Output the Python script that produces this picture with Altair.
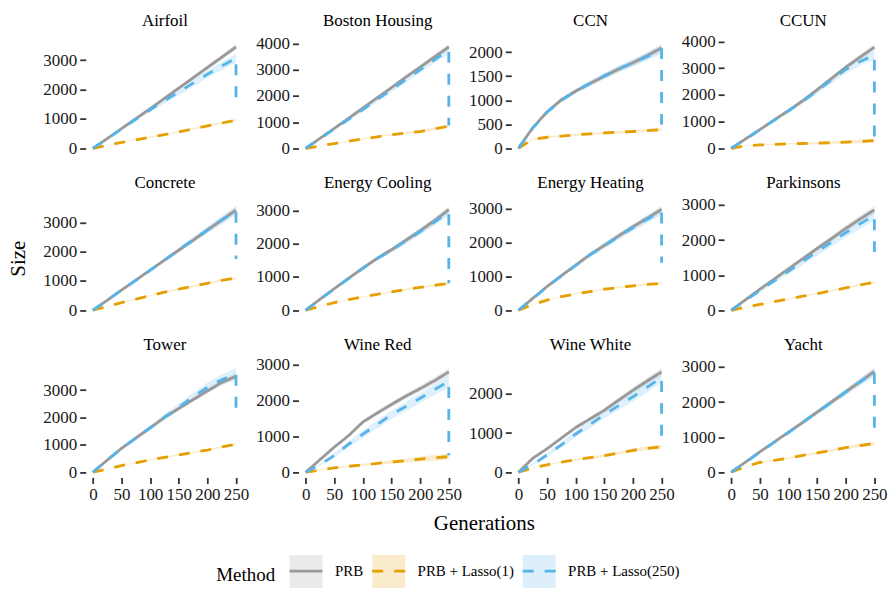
import altair as alt
import pandas as pd

SERIF = "Liberation Serif"

GENS = [0, 25, 50, 75, 100, 125, 150, 175, 200, 225, 250]
X_TICKS = [0, 50, 100, 150, 200, 250]
DATASETS = ["Airfoil", "Boston Housing", "CCN", "CCUN",
            "Concrete", "Energy Cooling", "Energy Heating", "Parkinsons",
            "Tower", "Wine Red", "Wine White", "Yacht"]
METHODS = ["PRB", "PRB + Lasso(1)", "PRB + Lasso(250)"]
LINE_COLORS = ["#999999", "#E69F00", "#56B4E9"]

# mean model size per generation
PRB = {
    "Airfoil":        [0, 330, 670, 1010, 1350, 1700, 2050, 2400, 2750, 3100, 3450],
    "Boston Housing": [0, 380, 760, 1150, 1540, 1930, 2320, 2720, 3100, 3490, 3870],
    "CCN":            [0, 430, 760, 1010, 1190, 1350, 1500, 1650, 1780, 1930, 2090],
    "CCUN":           [0, 350, 700, 1060, 1410, 1780, 2190, 2610, 3030, 3410, 3780],
    "Concrete":       [0, 340, 690, 1030, 1370, 1710, 2050, 2390, 2740, 3080, 3420],
    "Energy Cooling": [0, 330, 650, 960, 1270, 1560, 1820, 2100, 2390, 2690, 3020],
    "Energy Heating": [0, 350, 700, 1020, 1330, 1640, 1910, 2190, 2460, 2710, 2970],
    "Parkinsons":     [0, 300, 600, 890, 1180, 1470, 1760, 2040, 2330, 2600, 2860],
    "Tower":          [0, 440, 870, 1250, 1620, 2000, 2330, 2650, 2970, 3280, 3510],
    "Wine Red":       [0, 350, 700, 1020, 1400, 1650, 1890, 2120, 2330, 2550, 2795],
    "Wine White":     [0, 355, 600, 870, 1140, 1360, 1580, 1840, 2090, 2330, 2560],
    "Yacht":          [0, 290, 580, 860, 1140, 1420, 1710, 2000, 2290, 2580, 2870],
}
LASSO1 = {
    "Airfoil":        [0, 100, 200, 290, 380, 470, 560, 660, 760, 860, 960],
    "Boston Housing": [0, 90, 180, 270, 360, 440, 520, 580, 640, 740, 850],
    "CCN":            [0, 190, 230, 255, 280, 300, 320, 335, 350, 370, 390],
    "CCUN":           [0, 90, 125, 150, 170, 180, 195, 210, 230, 255, 290],
    "Concrete":       [0, 130, 260, 380, 500, 620, 720, 820, 920, 1020, 1100],
    "Energy Cooling": [0, 120, 230, 320, 400, 480, 550, 620, 690, 750, 806],
    "Energy Heating": [0, 170, 300, 400, 480, 550, 620, 670, 720, 760, 796],
    "Parkinsons":     [0, 90, 165, 245, 325, 400, 475, 555, 635, 720, 800],
    "Tower":          [0, 120, 240, 340, 450, 540, 630, 720, 810, 920, 1024],
    "Wine Red":       [0, 60, 120, 165, 205, 245, 285, 325, 365, 400, 435],
    "Wine White":     [0, 110, 190, 260, 320, 370, 420, 490, 560, 610, 650],
    "Yacht":          [0, 160, 280, 340, 400, 480, 550, 620, 700, 760, 820],
}
LASSO250 = {
    "Airfoil":        [0, 320, 660, 990, 1310, 1620, 1920, 2220, 2520, 2800, 3070],
    "Boston Housing": [0, 370, 740, 1110, 1480, 1860, 2240, 2620, 3000, 3380, 3750],
    "CCN":            [0, 420, 750, 1000, 1190, 1350, 1510, 1650, 1780, 1910, 2050],
    "CCUN":           [0, 340, 690, 1050, 1400, 1760, 2150, 2560, 2950, 3250, 3480],
    "Concrete":       [0, 340, 690, 1020, 1360, 1710, 2060, 2400, 2740, 3080, 3400],
    "Energy Cooling": [0, 320, 640, 950, 1260, 1550, 1800, 2080, 2360, 2650, 2940],
    "Energy Heating": [0, 340, 690, 1010, 1320, 1630, 1900, 2170, 2430, 2680, 2910],
    "Parkinsons":     [0, 280, 560, 840, 1110, 1390, 1670, 1940, 2210, 2460, 2700],
    "Tower":          [0, 440, 870, 1250, 1620, 2010, 2380, 2750, 3100, 3380, 3600],
    "Wine Red":       [0, 210, 470, 780, 1060, 1330, 1610, 1830, 2060, 2300, 2530],
    "Wine White":     [0, 200, 440, 700, 975, 1220, 1470, 1700, 1925, 2170, 2420],
    "Yacht":          [0, 280, 570, 850, 1130, 1420, 1710, 1990, 2280, 2570, 2850],
}
# size after the final Lasso(250) simplification at generation 250
LASSO250_FINAL = {
    "Airfoil": 1550, "Boston Housing": 870, "CCN": 400, "CCUN": 270,
    "Concrete": 1750, "Energy Cooling": 810, "Energy Heating": 1400,
    "Parkinsons": 1650, "Tower": 2050, "Wine Red": 470, "Wine White": 700,
    "Yacht": 1000,
}
# half-width of the confidence bands
PRB_HW = {
    "Airfoil":        [0, 15, 25, 35, 45, 55, 60, 70, 80, 90, 100],
    "Boston Housing": [0, 20, 30, 40, 50, 60, 70, 80, 90, 100, 110],
    "CCN":            [0, 20, 30, 40, 40, 50, 50, 60, 60, 70, 80],
    "CCUN":           [0, 30, 40, 50, 60, 70, 80, 90, 100, 110, 120],
    "Concrete":       [0, 20, 30, 40, 50, 60, 70, 80, 90, 100, 110],
    "Energy Cooling": [0, 20, 30, 40, 50, 60, 70, 80, 90, 100, 110],
    "Energy Heating": [0, 20, 30, 40, 50, 60, 70, 75, 80, 90, 100],
    "Parkinsons":     [0, 20, 30, 40, 50, 60, 70, 80, 90, 100, 110],
    "Tower":          [0, 20, 30, 40, 50, 60, 70, 80, 90, 100, 110],
    "Wine Red":       [0, 20, 30, 40, 50, 60, 70, 80, 90, 100, 110],
    "Wine White":     [0, 20, 30, 40, 50, 55, 60, 70, 80, 90, 100],
    "Yacht":          [0, 15, 25, 30, 40, 50, 60, 70, 80, 90, 100],
}
LASSO1_HW = {
    "Airfoil":        [0, 8, 12, 15, 18, 22, 25, 28, 30, 35, 40],
    "Boston Housing": [0, 10, 15, 20, 25, 30, 35, 40, 45, 50, 60],
    "CCN":            [0, 15, 20, 20, 25, 25, 25, 30, 30, 30, 35],
    "CCUN":           [0, 15, 20, 25, 30, 35, 40, 50, 60, 70, 80],
    "Concrete":       [0, 10, 15, 20, 20, 25, 30, 30, 35, 35, 40],
    "Energy Cooling": [0, 10, 12, 15, 18, 20, 22, 25, 28, 30, 32],
    "Energy Heating": [0, 10, 12, 15, 18, 20, 22, 25, 28, 30, 32],
    "Parkinsons":     [0, 8, 10, 12, 15, 18, 20, 22, 25, 28, 30],
    "Tower":          [0, 10, 15, 20, 20, 25, 25, 30, 30, 35, 40],
    "Wine Red":       [0, 15, 20, 25, 30, 40, 50, 60, 70, 80, 90],
    "Wine White":     [0, 10, 15, 20, 25, 30, 35, 40, 45, 50, 55],
    "Yacht":          [0, 10, 15, 20, 25, 30, 35, 40, 45, 50, 55],
}
LASSO250_HW = {
    "Airfoil":        [0, 20, 35, 50, 70, 90, 110, 120, 130, 140, 150],
    "Boston Housing": [0, 30, 50, 60, 80, 90, 100, 110, 120, 130, 150],
    "CCN":            [0, 25, 35, 45, 50, 60, 65, 70, 75, 80, 90],
    "CCUN":           [0, 30, 50, 60, 80, 90, 110, 130, 150, 160, 170],
    "Concrete":       [0, 20, 30, 40, 50, 60, 80, 100, 120, 140, 160],
    "Energy Cooling": [0, 20, 30, 40, 50, 60, 70, 80, 90, 100, 110],
    "Energy Heating": [0, 25, 40, 50, 60, 70, 80, 90, 100, 110, 120],
    "Parkinsons":     [0, 30, 50, 60, 80, 100, 110, 120, 130, 140, 150],
    "Tower":          [0, 30, 50, 70, 90, 110, 130, 150, 170, 190, 210],
    "Wine Red":       [0, 30, 60, 80, 100, 110, 120, 130, 140, 150, 160],
    "Wine White":     [0, 30, 50, 70, 80, 90, 100, 110, 120, 130, 140],
    "Yacht":          [0, 20, 30, 40, 50, 60, 70, 80, 90, 100, 120],
}
Y_TICK_COUNT = {"Wine White": 3}

rows = []
for d in DATASETS:
    for m, means, hws in [(METHODS[0], PRB, PRB_HW),
                          (METHODS[1], LASSO1, LASSO1_HW),
                          (METHODS[2], LASSO250, LASSO250_HW)]:
        for i, g in enumerate(GENS):
            v = means[d][i]
            h = hws[d][i]
            rows.append(dict(dataset=d, Method=m, Band=m, gen=g, size=v,
                             lo=v - h, hi=v + h, idx=i))
    rows.append(dict(dataset=d, Method=METHODS[2], Band=METHODS[2], gen=250,
                     size=LASSO250_FINAL[d], lo=None, hi=None, idx=len(GENS)))
df = pd.DataFrame(rows)

LEG_X = 131
LEG_Y = 516

common_legend = dict(
    orient="none", legendX=LEG_X, legendY=LEG_Y, direction="horizontal",
    title="Method", titleOrient="left", titleAnchor="middle", titleBaseline="top",
    titleFont=SERIF, titleFontSize=19, titleFontWeight="normal", titlePadding=12,
    labelFont=SERIF, labelFontSize=15, labelOffset=11, columnPadding=2,
    symbolSize=1089, symbolStrokeWidth=2.8,
)
fill_legend = alt.Legend(
    titleColor="transparent", labelColor="transparent",
    symbolType="square", symbolOpacity=0.2, symbolStrokeColor="transparent",
    **common_legend,
)
stroke_legend = alt.Legend(
    titleColor="black", labelColor="black",
    symbolType="M-1,0H1",
    **common_legend,
)

W, H = 158, 115


def panel(i, d):
    r, c = divmod(i, 4)
    sub = df[df.dataset == d]
    band_df = sub[sub.idx < len(GENS)]
    xscale = alt.Scale(domain=[0, 250], nice=False, padding=7.2)
    yscale = alt.Scale(zero=True, nice=False, padding=5.2)
    axis_common = dict(domain=False, grid=False, labelFont=SERIF, labelFontSize=17,
                       labelColor="#1A1A1A", tickColor="#333333", tickSize=6,
                       tickWidth=1.8, labelPadding=3, format="d",
                       titleFont=SERIF, titleFontSize=21, titleFontWeight="normal",
                       titleColor="black")
    if r == 2:
        xaxis = alt.Axis(values=X_TICKS, title="Generations" if c == 1 else None,
                         titleX=186, titleAlign="center", titlePadding=10,
                         labelFlush=False, **axis_common)
    else:
        xaxis = None
    top_axis = alt.Axis(orient="top", title=d, labels=False, ticks=False,
                        domain=False, grid=False, titleFont=SERIF, titleFontSize=17,
                        titleFontWeight="normal", titleColor="black", titlePadding=9)
    yaxis = alt.Axis(title="Size" if i == 4 else None,
                     tickCount=Y_TICK_COUNT.get(d, 4), titlePadding=14,
                     **axis_common)
    bands = alt.Chart(band_df).mark_area(opacity=0.2).encode(
        x=alt.X("gen:Q", scale=xscale, axis=xaxis),
        y=alt.Y("lo:Q", scale=yscale, axis=yaxis, stack=None),
        y2="hi:Q",
        fill=alt.Fill("Band:N", scale=alt.Scale(range=LINE_COLORS),
                      legend=fill_legend),
    )
    lines = alt.Chart(sub).mark_line(strokeWidth=2.8, strokeCap="butt").encode(
        x=alt.X("gen:Q", scale=xscale, axis=top_axis),
        y=alt.Y("size:Q", scale=yscale, axis=yaxis),
        stroke=alt.Stroke("Method:N", scale=alt.Scale(domain=METHODS, range=LINE_COLORS),
                          legend=stroke_legend),
        strokeDash=alt.StrokeDash("Method:N",
                                  scale=alt.Scale(domain=METHODS,
                                                  range=[[1, 0], [11, 11], [11, 11]]),
                                  legend=stroke_legend),
        order=alt.Order("idx:Q"),
    )
    return alt.layer(bands, lines).resolve_axis(x="independent").properties(
        width=W, height=H)


chart = alt.concat(*[panel(i, d) for i, d in enumerate(DATASETS)],
                   columns=4, spacing={"row": 47.5, "column": 55.5},
                   bounds="flush").properties(
    padding={"left": 8, "top": 11, "right": 5, "bottom": 5},
    background="white",
).configure_view(stroke=None)

chart.save("out.html", embed_options={"renderer": "svg", "actions": False})
